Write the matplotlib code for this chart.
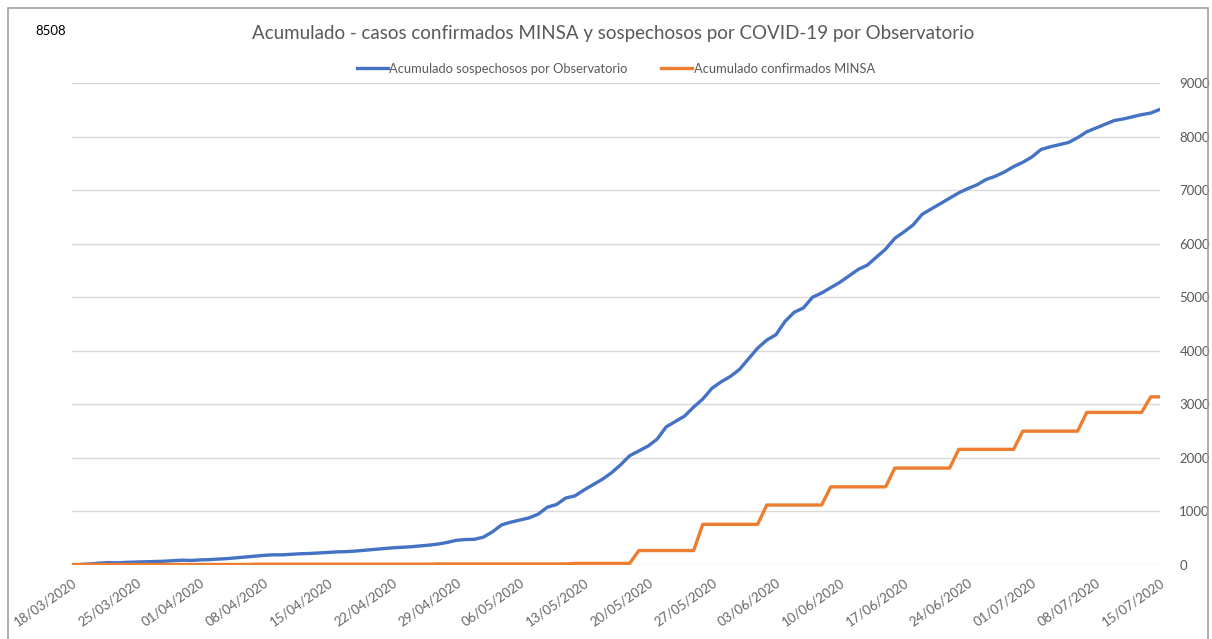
import matplotlib
matplotlib.use("Agg")
import matplotlib.pyplot as plt
import pandas as pd
from matplotlib.patches import Rectangle

# fechas diarias 18/03/2020 - 15/07/2020
fechas = pd.date_range("2020-03-18", "2020-07-15", freq="D")

# acumulado sospechosos por Observatorio
sospechosos = [
    0, 10, 20, 35, 45, 40, 50, 55, 60, 65,
    70, 80, 90, 85, 95, 100, 110, 120, 135, 150,
    165, 180, 190, 190, 200, 210, 215, 225, 235, 245,
    250, 260, 275, 290, 305, 320, 330, 340, 355, 370,
    390, 420, 460, 475, 480, 520, 620, 750, 800, 840,
    880, 950, 1080, 1130, 1250, 1290, 1400, 1500, 1600, 1720,
    1870, 2040, 2130, 2220, 2350, 2580, 2680, 2780, 2950, 3100,
    3300, 3420, 3520, 3650, 3850, 4050, 4200, 4300, 4550, 4720,
    4800, 5000, 5080, 5180, 5280, 5400, 5520, 5600, 5750, 5900,
    6100, 6220, 6350, 6550, 6650, 6750, 6850, 6950, 7030, 7100,
    7200, 7260, 7340, 7440, 7520, 7620, 7760, 7810, 7850, 7890,
    7980, 8090, 8160, 8230, 8300, 8330, 8370, 8410, 8440, 8508,
]

# acumulado confirmados MINSA
confirmados = [
    10, 10, 10, 10, 10, 10, 10, 10, 10, 10,
    10, 10, 10, 10, 10, 10, 10, 10, 10, 10,
    15, 15, 15, 15, 15, 15, 15, 15, 15, 15,
    15, 15, 15, 15, 15, 15, 15, 15, 15, 15,
    20, 20, 20, 20, 20, 20, 20, 20, 20, 20,
    20, 20, 20, 20, 20, 30, 30, 30, 30, 30,
    30, 30, 270, 270, 270, 270, 270, 270, 270, 760,
    760, 760, 760, 760, 760, 760, 1120, 1120, 1120, 1120,
    1120, 1120, 1120, 1460, 1460, 1460, 1460, 1460, 1460, 1460,
    1810, 1810, 1810, 1810, 1810, 1810, 1810, 2160, 2160, 2160,
    2160, 2160, 2160, 2160, 2500, 2500, 2500, 2500, 2500, 2500,
    2500, 2850, 2850, 2850, 2850, 2850, 2850, 2850, 3140, 3140,
]

etiquetas = [f.strftime("%d/%m/%Y") for f in fechas]
x = list(range(len(fechas)))

plt.rcParams["font.family"] = ["Lato", "DejaVu Sans"]

fig = plt.figure(figsize=(12.12, 6.39), dpi=100)
ax = fig.add_axes([0.0594, 0.1158, 0.8976, 0.7542])

ax.plot(x, sospechosos, color="#4472C4", lw=2.4, solid_joinstyle="round",
        label="Acumulado sospechosos por Observatorio")
ax.plot(x, confirmados, color="#ED7D31", lw=2.4, solid_joinstyle="round",
        label="Acumulado confirmados MINSA")

ax.set_xlim(0, len(x) - 1)
ax.set_ylim(0, 9000)
ax.set_yticks(range(0, 9001, 1000))
ax.yaxis.tick_right()
ax.tick_params(axis="y", length=0, pad=14, labelsize=9.5, labelcolor="#595959")
ax.grid(axis="y", color="#d9d9d9", lw=1)
ax.set_axisbelow(True)

ax.set_xticks(x[::7])
ax.set_xticklabels(etiquetas[::7], rotation=35, ha="right",
                   rotation_mode="anchor", fontsize=9.5, color="#666666")
ax.tick_params(axis="x", length=0, pad=8)

for s in ax.spines.values():
    s.set_visible(False)

fig.text(0.506, 0.948, "Acumulado - casos confirmados MINSA y sospechosos por COVID-19 por Observatorio",
         ha="center", va="center", fontsize=13.5, color="#595959")
fig.text(0.029, 0.952, "8508", ha="left", va="center", fontsize=9.5, color="black")

ax.legend(loc="center", bbox_to_anchor=(0.5, 1.03), ncol=2, frameon=False,
          fontsize=9.3, labelcolor="#595959", handlelength=2.4, handletextpad=0.1,
          columnspacing=2.6)

fig.patches.append(Rectangle((0.007, -0.01), 0.99, 0.997, transform=fig.transFigure,
                             fill=False, edgecolor="#a0a0a0", lw=1.2))

fig.savefig("out.png", dpi=100)
